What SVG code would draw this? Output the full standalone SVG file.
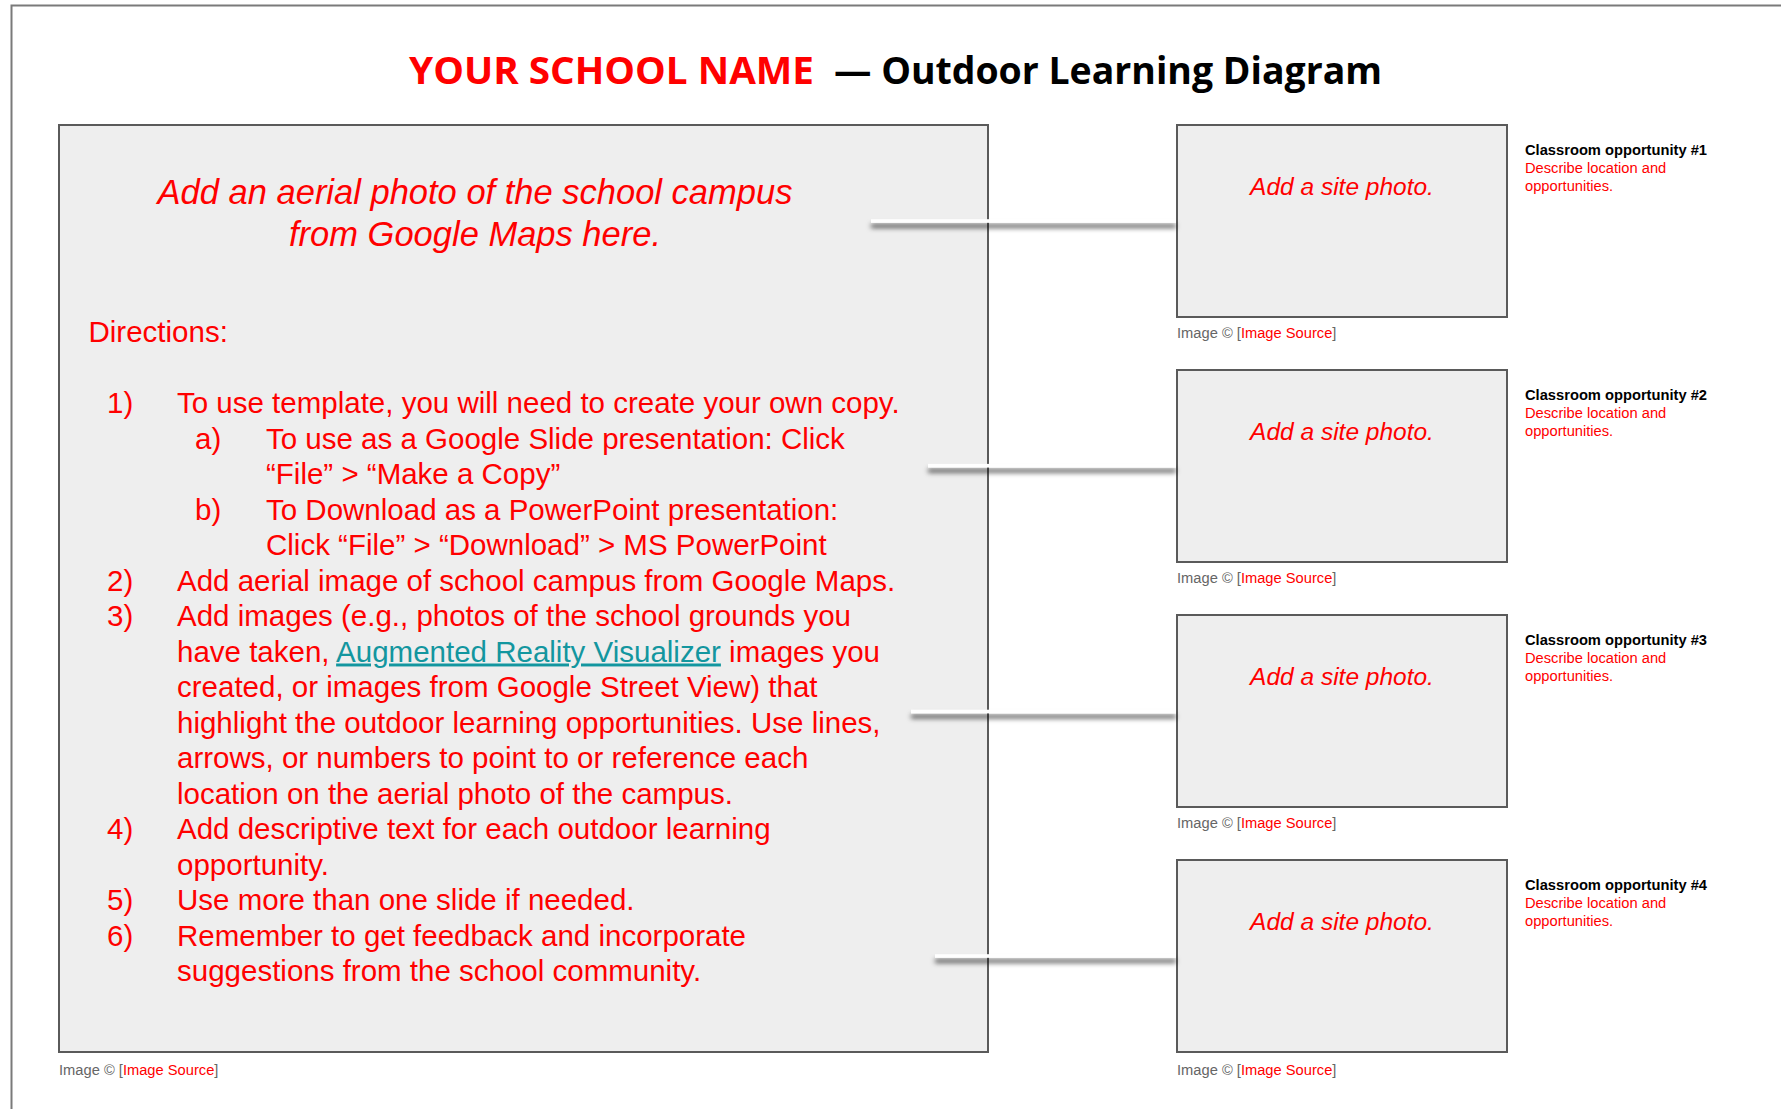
<svg xmlns="http://www.w3.org/2000/svg" width="1781" height="1109" viewBox="0 0 1781 1109">
<defs>
<style>
.bg{fill:#ffffff}
.frame{stroke:#7a7a7a;stroke-width:2;fill:none}
.panel{fill:#eeeeee;stroke:#5a5a5a;stroke-width:2}
.red{fill:#ff0000}
.head{font-family:"Liberation Sans",Arial,sans-serif;font-style:italic;font-size:34.5px;fill:#ff0000}
.dir{font-family:"Liberation Sans",Arial,sans-serif;font-size:29.5px;fill:#ff0000}
.link{fill:#13969f;text-decoration:underline}
.site{font-family:"Liberation Sans",Arial,sans-serif;font-style:italic;font-size:24.5px;fill:#ff0000}
.opt{font-family:"Liberation Sans",Arial,sans-serif;font-size:14.7px;font-weight:bold;fill:#000000}
.desc{font-family:"Liberation Sans",Arial,sans-serif;font-size:14.7px;fill:#ff0000}
.cap{font-family:"Liberation Sans",Arial,sans-serif;font-size:14.7px;fill:#666666}
.title{font-family:"Open Sans","Noto Sans",sans-serif;font-weight:bold;font-size:37px}
.conn{fill:#ffffff;filter:url(#shadow)}
</style>
<filter id="shadow" filterUnits="userSpaceOnUse" x="0" y="0" width="1781" height="1109">
<feDropShadow dx="0" dy="5" stdDeviation="2.4" flood-color="#000000" flood-opacity="0.7"/>
</filter>
</defs>
<rect class="bg" x="0" y="0" width="1781" height="1109"/>
<path class="frame" d="M11.5,1109 V5.5 H1781"/>

<g id="title">
<text class="title" x="409" y="84" fill="#ff0000" textLength="405" lengthAdjust="spacingAndGlyphs">YOUR SCHOOL NAME</text>
<text class="title" x="834" y="84" fill="#000000" textLength="548" lengthAdjust="spacingAndGlyphs">— Outdoor Learning Diagram</text>
</g>

<g id="aerial-photo">
<rect class="panel" x="59" y="125" width="929" height="927"/>
<text class="head" x="475" y="204" text-anchor="middle">Add an aerial photo of the school campus</text>
<text class="head" x="475" y="246" text-anchor="middle">from Google Maps here.</text>
<text class="dir" x="88.5" y="342">Directions:</text>
<g class="dir">
<text x="107" y="413">1)</text>
<text x="177" y="413">To use template, you will need to create your own copy.</text>
<text x="195" y="448.5">a)</text>
<text x="266" y="448.5">To use as a Google Slide presentation: Click</text>
<text x="266" y="484">“File” &gt; “Make a Copy”</text>
<text x="195" y="519.5">b)</text>
<text x="266" y="519.5">To Download as a PowerPoint presentation:</text>
<text x="266" y="555">Click “File” &gt; “Download” &gt; MS PowerPoint</text>
<text x="107" y="590.5">2)</text>
<text x="177" y="590.5">Add aerial image of school campus from Google Maps.</text>
<text x="107" y="626">3)</text>
<text x="177" y="626">Add images (e.g., photos of the school grounds you</text>
<text x="177" y="661.5">have taken, <tspan class="link">Augmented Reality Visualizer</tspan> images you</text>
<text x="177" y="697">created, or images from Google Street View) that</text>
<text x="177" y="732.5">highlight the outdoor learning opportunities. Use lines,</text>
<text x="177" y="768">arrows, or numbers to point to or reference each</text>
<text x="177" y="803.5">location on the aerial photo of the campus.</text>
<text x="107" y="839">4)</text>
<text x="177" y="839">Add descriptive text for each outdoor learning</text>
<text x="177" y="874.5">opportunity.</text>
<text x="107" y="910">5)</text>
<text x="177" y="910">Use more than one slide if needed.</text>
<text x="107" y="945.5">6)</text>
<text x="177" y="945.5">Remember to get feedback and incorporate</text>
<text x="177" y="981">suggestions from the school community.</text>
</g>
<text class="cap" x="59" y="1075">Image © [<tspan class="red">Image Source</tspan>]</text>
</g>

<g id="site-1">
<rect class="panel" x="1177" y="125" width="330" height="192"/>
<text class="site" x="1342" y="195" text-anchor="middle">Add a site photo.</text>
<text class="cap" x="1177" y="338">Image © [<tspan class="red">Image Source</tspan>]</text>
<text class="opt" x="1525" y="155">Classroom opportunity #1</text>
<text class="desc" x="1525" y="173">Describe location and</text>
<text class="desc" x="1525" y="191">opportunities.</text>
</g>

<g id="site-2">
<rect class="panel" x="1177" y="370" width="330" height="192"/>
<text class="site" x="1342" y="440" text-anchor="middle">Add a site photo.</text>
<text class="cap" x="1177" y="583">Image © [<tspan class="red">Image Source</tspan>]</text>
<text class="opt" x="1525" y="400">Classroom opportunity #2</text>
<text class="desc" x="1525" y="418">Describe location and</text>
<text class="desc" x="1525" y="436">opportunities.</text>
</g>

<g id="site-3">
<rect class="panel" x="1177" y="615" width="330" height="192"/>
<text class="site" x="1342" y="685" text-anchor="middle">Add a site photo.</text>
<text class="cap" x="1177" y="828">Image © [<tspan class="red">Image Source</tspan>]</text>
<text class="opt" x="1525" y="645">Classroom opportunity #3</text>
<text class="desc" x="1525" y="663">Describe location and</text>
<text class="desc" x="1525" y="681">opportunities.</text>
</g>

<g id="site-4">
<rect class="panel" x="1177" y="860" width="330" height="192"/>
<text class="site" x="1342" y="930" text-anchor="middle">Add a site photo.</text>
<text class="cap" x="1177" y="1075">Image © [<tspan class="red">Image Source</tspan>]</text>
<text class="opt" x="1525" y="890">Classroom opportunity #4</text>
<text class="desc" x="1525" y="908">Describe location and</text>
<text class="desc" x="1525" y="926">opportunities.</text>
</g>

<g id="connectors">
<rect class="conn" x="871" y="219.2" width="305" height="3.6"/>
<rect class="conn" x="928" y="463.9" width="248" height="3.6"/>
<rect class="conn" x="911" y="709.7" width="265" height="3.6"/>
<rect class="conn" x="935" y="954.2" width="241" height="3.6"/>
</g>
</svg>
